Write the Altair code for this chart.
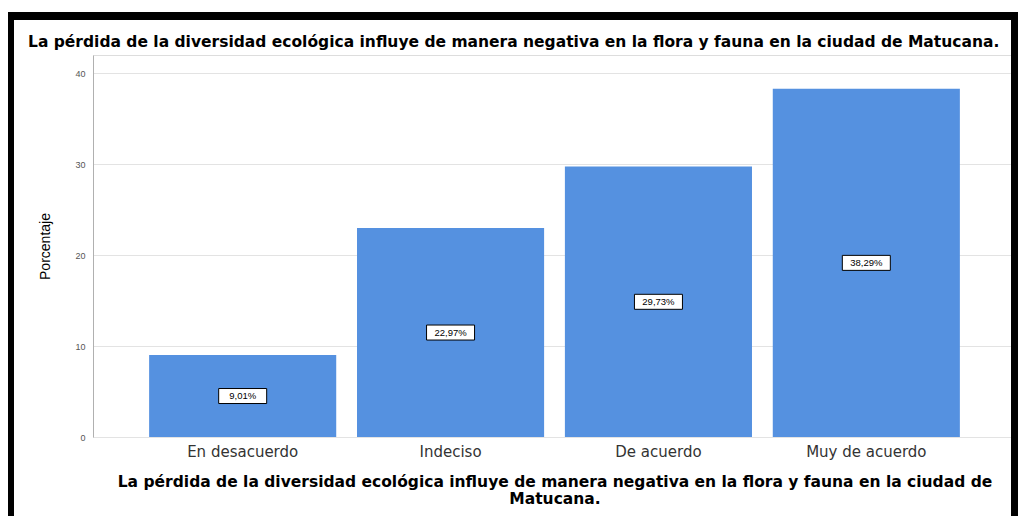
import altair as alt
import pandas as pd

categories = ["En desacuerdo", "Indeciso", "De acuerdo", "Muy de acuerdo"]
percentages = [9.01, 22.97, 29.73, 38.29]
y_ticks = [0, 10, 20, 30, 40]
title_text = "La pérdida de la diversidad ecológica influye de manera negativa en la flora y fauna en la ciudad de Matucana."
x_title_lines = ["La pérdida de la diversidad ecológica influye de manera negativa en la flora y fauna en la ciudad de", "Matucana."]

df = pd.DataFrame({"cat": categories, "pct": percentages})
df["mid"] = df["pct"] / 2
df["label"] = [f"{v:.2f}".replace(".", ",") + "%" for v in percentages]

FONT = "Liberation Sans"
WIDE = "DejaVu Sans"
BAR = "#5591E0"

x_enc = alt.X("cat:N", sort=categories,
              scale=alt.Scale(paddingInner=0.1, paddingOuter=0.27),
              axis=alt.Axis(title=x_title_lines, labelAngle=0, ticks=False, domain=False,
                            labelFontSize=15, labelColor="#333333", labelFont=WIDE, labelPadding=7,
                            titleFont=WIDE, titleFontSize=15.5, titleFontWeight="bold",
                            titleColor="#000000", titlePadding=15, titleLineHeight=17))

y_scale = alt.Scale(domain=[0, 42], nice=False)

bars = alt.Chart(df).mark_bar(color=BAR).encode(
    x=x_enc,
    y=alt.Y("pct:Q", scale=y_scale,
            axis=alt.Axis(values=y_ticks, title="Porcentaje", ticks=False,
                          labelFontSize=9, labelColor="#555555", labelFont=FONT, labelPadding=8,
                          domainColor="#b0b0b0", gridColor="#e3e3e3",
                          titleFont=FONT, titleFontSize=14, titleFontWeight="normal",
                          titleColor="#000000", titlePadding=22)),
)

box = alt.Chart(df).mark_point(
    shape="M-3.2,-1H3.2V1H-3.2Z", filled=True, fill="white", stroke="black",
    strokeWidth=1, size=225, opacity=1, strokeOpacity=1
).encode(
    x=alt.X("cat:N", sort=categories),
    y=alt.Y("mid:Q", scale=y_scale),
)

labels = alt.Chart(df).mark_text(font=FONT, fontSize=9.5, color="black").encode(
    x=alt.X("cat:N", sort=categories),
    y=alt.Y("mid:Q", scale=y_scale),
    text="label:N",
)

title_mark = alt.Chart(pd.DataFrame({"t": [title_text]})).mark_text(
    font=WIDE, fontSize=15.5, fontWeight="bold", color="black", align="left", baseline="middle"
).encode(
    x=alt.value(-65), y=alt.value(-13), text="t:N"
)

frame = alt.Chart(pd.DataFrame({"k": [0]})).mark_rect(
    fill="transparent", stroke="black", strokeWidth=8
).encode(
    x=alt.value(-83), x2=alt.value(922), y=alt.value(-39), y2=alt.value(700)
)

chart = alt.layer(bars, box, labels, title_mark, frame).properties(
    width=923, height=382,
    padding={"left": 85, "top": 47, "right": 2, "bottom": 79},
    autosize=alt.AutoSizeParams(type="none"),
).configure_view(strokeWidth=0).configure(background="white")

chart.save("out.html", embed_options={"renderer": "svg", "actions": False})
